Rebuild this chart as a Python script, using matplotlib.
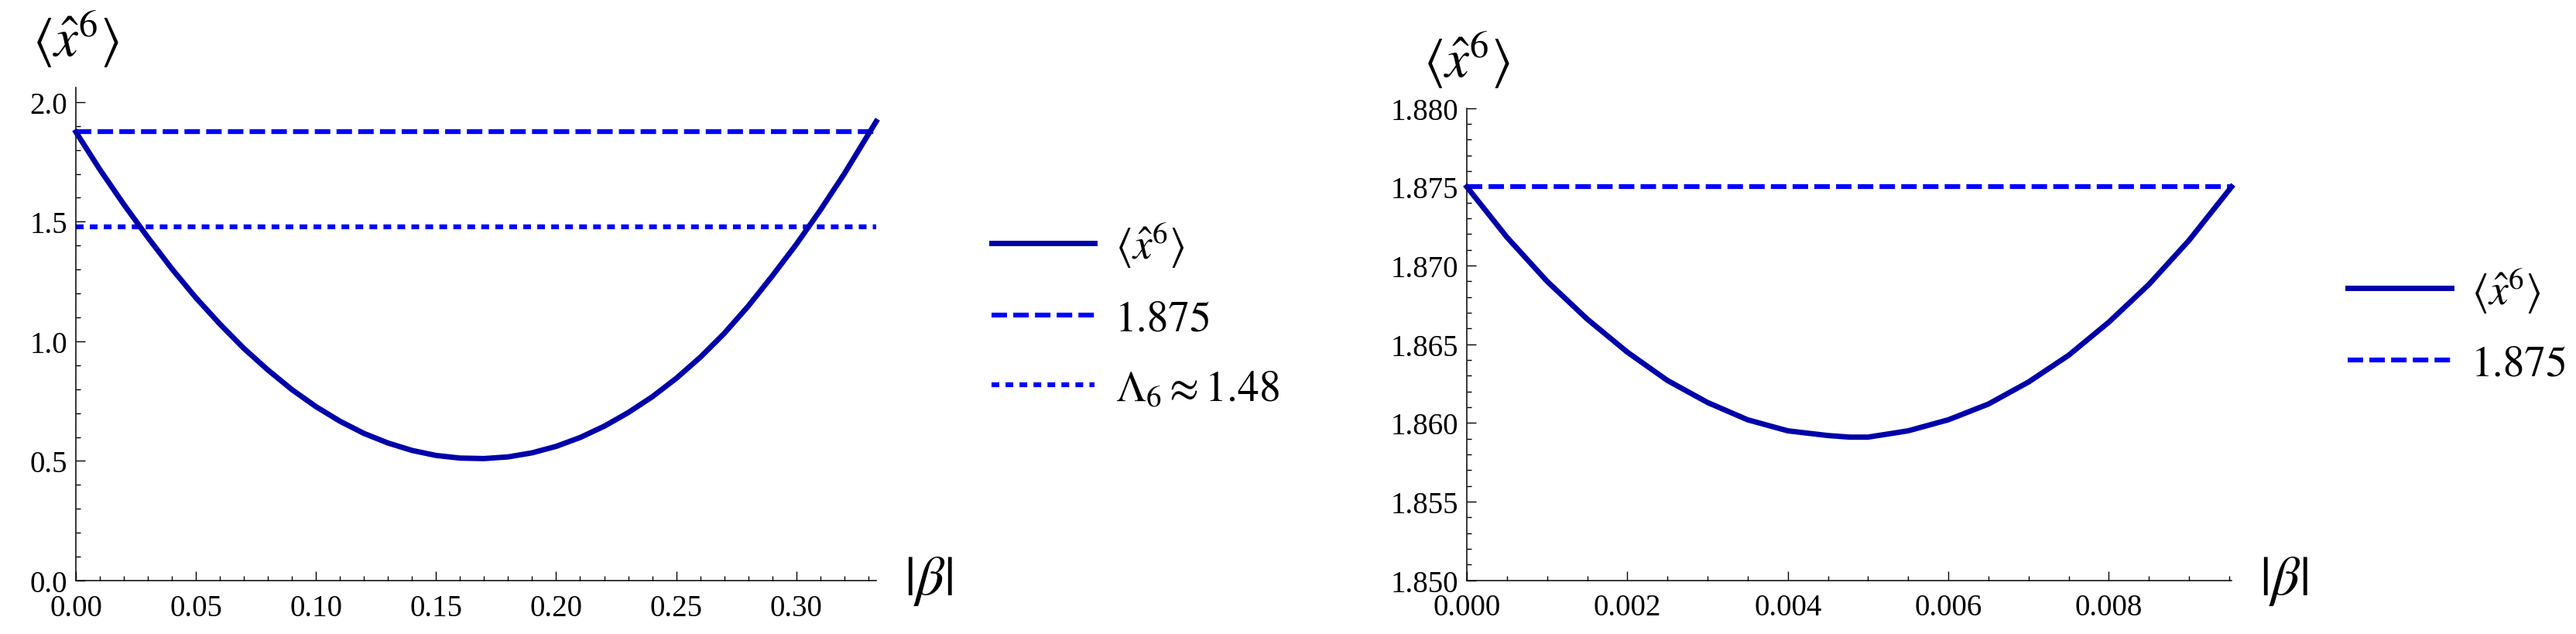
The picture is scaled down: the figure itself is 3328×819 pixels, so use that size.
import numpy as np
import matplotlib
matplotlib.use("Agg")
import matplotlib.pyplot as plt
from matplotlib.ticker import MultipleLocator, FormatStrFormatter

plt.rcParams['font.family'] = ['Liberation Serif', 'DejaVu Serif']
plt.rcParams['mathtext.fontset'] = 'stix'

# left panel: <x^6> vs |beta| over the full range
beta_a = [0.0, 0.01, 0.02, 0.03, 0.04, 0.05, 0.06, 0.07, 0.08, 0.09, 0.10, 0.11,
          0.12, 0.13, 0.14, 0.15, 0.16, 0.17, 0.18, 0.19, 0.20, 0.21, 0.22, 0.23,
          0.24, 0.25, 0.26, 0.27, 0.28, 0.29, 0.30, 0.31, 0.32, 0.3333]
x6_a = [1.875, 1.718, 1.572, 1.434, 1.303, 1.182, 1.072, 0.970, 0.880, 0.798,
        0.727, 0.666, 0.615, 0.575, 0.544, 0.523, 0.512, 0.510, 0.517, 0.534,
        0.561, 0.598, 0.645, 0.702, 0.768, 0.845, 0.933, 1.033, 1.147, 1.273,
        1.405, 1.548, 1.700, 1.919]
beta_max_a = 0.3333
ref_a = 1.875
lam6 = 1.48

# right panel: small |beta| range
beta_b = [0.0, 0.0005, 0.001, 0.0015, 0.002, 0.0025, 0.003, 0.0035, 0.004,
          0.0045, 0.00477, 0.005, 0.0055, 0.006, 0.0065, 0.007, 0.0075, 0.008,
          0.0085, 0.009, 0.00953]
x6_b = [1.8750, 1.8718, 1.8690, 1.8666, 1.8645, 1.8627, 1.8613, 1.8602, 1.8595,
        1.8592, 1.8591, 1.8591, 1.8595, 1.8602, 1.8612, 1.8626, 1.8643, 1.8664,
        1.8688, 1.8716, 1.8750]
beta_max_b = 0.00953
ref_b = 1.875

solid_c = '#0000AA'
dash_c = '#0000FF'
lw_solid = 5.0
lw = 4.5
dashed = (0, (3.2, 1.29))
dotted = (0, (1.6, 1.29))

fig = plt.figure(figsize=(33.28, 8.2), dpi=100)
ax1 = fig.add_axes([98/3328, 69/820, 1034/3328, 637/820])
ax2 = fig.add_axes([1895/3328, 69.3/820, 988/3328, 610/820])

ax1.plot(beta_a, x6_a, color=solid_c, lw=lw_solid, label=r'$\langle \hat{x}^6 \rangle$',
         clip_on=False, zorder=3, solid_joinstyle='round')
ax1.plot([0, beta_max_a], [ref_a, ref_a], color=dash_c, lw=lw, ls=dashed, label='1.875', clip_on=False)
ax1.plot([0, beta_max_a], [lam6, lam6], color=dash_c, lw=lw, ls=dotted,
         label=r'$\Lambda_6 \approx 1.48$', clip_on=False)
ax1.set_xlim(0, beta_max_a)
ax1.set_ylim(0, 2.061)
ax1.xaxis.set_major_locator(MultipleLocator(0.05))
ax1.xaxis.set_minor_locator(MultipleLocator(0.01))
ax1.yaxis.set_major_locator(MultipleLocator(0.5))
ax1.yaxis.set_minor_locator(MultipleLocator(0.1))
ax1.xaxis.set_major_formatter(FormatStrFormatter('%.2f'))
ax1.yaxis.set_major_formatter(FormatStrFormatter('%.1f'))

ax2.plot(beta_b, x6_b, color=solid_c, lw=lw_solid, label=r'$\langle \hat{x}^6 \rangle$',
         clip_on=False, zorder=3, solid_joinstyle='round')
ax2.plot([0, beta_max_b], [ref_b, ref_b], color=dash_c, lw=lw, ls=dashed, label='1.875', clip_on=False)
ax2.set_xlim(0, beta_max_b)
ax2.set_ylim(1.850, 1.880)
ax2.xaxis.set_major_locator(MultipleLocator(0.002))
ax2.xaxis.set_minor_locator(MultipleLocator(0.0005))
ax2.yaxis.set_major_locator(MultipleLocator(0.005))
ax2.yaxis.set_minor_locator(MultipleLocator(0.001))
ax2.xaxis.set_major_formatter(FormatStrFormatter('%.3f'))
ax2.yaxis.set_major_formatter(FormatStrFormatter('%.3f'))

for ax in (ax1, ax2):
    for s in ('top', 'right'):
        ax.spines[s].set_visible(False)
    for s in ('left', 'bottom'):
        ax.spines[s].set_linewidth(1.1)
    ax.tick_params(which='major', direction='in', length=8.5, width=1.0, labelsize=28)
    ax.tick_params(axis='x', which='major', pad=12)
    ax.tick_params(axis='y', which='major', pad=8)
    ax.tick_params(which='minor', direction='in', length=4.5, width=1.0)
    ax.annotate(r'$\langle \hat{x}^6 \rangle$', xy=(0, 1), xycoords='axes fraction',
                xytext=(0, 46), textcoords='offset points', ha='center', va='center', fontsize=50)
    ax.annotate(r'$|\beta|$', xy=(1, 0), xycoords='axes fraction',
                xytext=(26, 0), textcoords='offset points', ha='left', va='center', fontsize=52)

leg_kw = dict(loc='center left', frameon=False, borderpad=0, borderaxespad=0,
              handlelength=2.4, handletextpad=0.48, labelspacing=0.72,
              prop={'family': 'STIXGeneral', 'size': 40})
ax1.legend(bbox_to_anchor=(1.144, 0.54), **leg_kw)
ax2.legend(bbox_to_anchor=(1.152, 0.542), **leg_kw)

fig.savefig('out.png', dpi=100)
